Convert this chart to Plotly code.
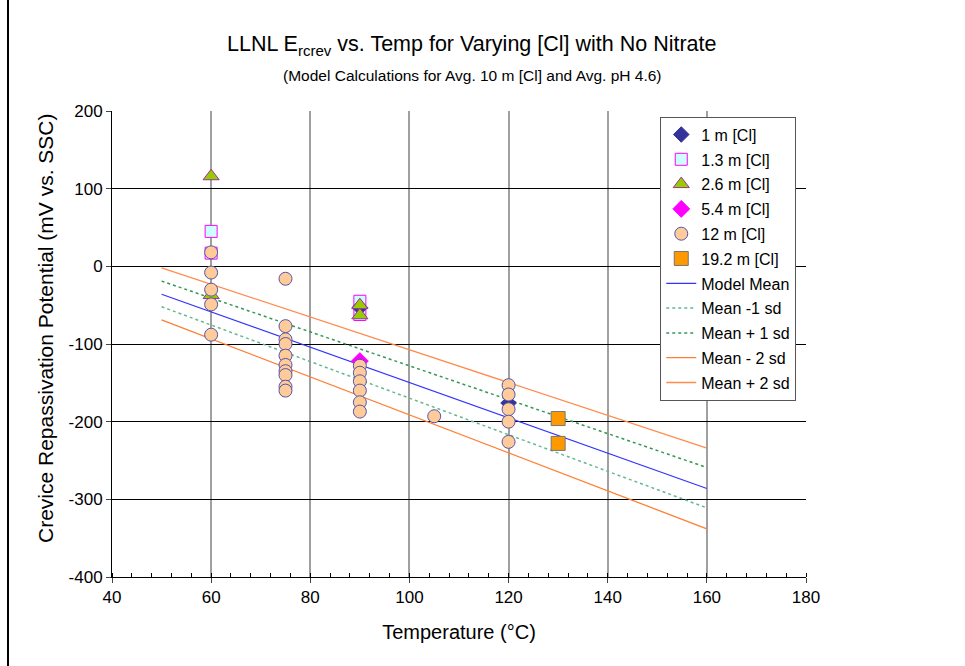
import plotly.graph_objects as go

# ---------------- data ----------------
cl1_x = [90, 120]
cl1_y = [-53, -176]

cl13_x = [60, 60, 90, 90]
cl13_y = [45, 17, -45, -62]

cl26_x = [60, 60, 90, 90]
cl26_y = [116, -37, -50, -63]

cl54_x = [90]
cl54_y = [-122]

cl12_x = [60, 60, 60, 60, 60,
          75, 75, 75, 75, 75, 75, 75, 75, 75, 75,
          90, 90, 90, 90, 90, 90,
          105,
          120, 120, 120, 120, 120]
cl12_y = [18, -8, -30, -49, -88,
          -16, -77, -94, -100, -115, -127, -135, -140, -155, -160,
          -128, -137, -148, -160, -175, -187,
          -193,
          -153, -165, -184, -200, -226]

cl192_x = [130, 130]
cl192_y = [-196, -228]

model_t = [50, 160]
model_mean = [-36, -286]
mean_m1sd = [-52, -311]
mean_p1sd = [-19, -259]
mean_m2sd = [-69, -338]
mean_p2sd = [-2, -234]

x_ticks = [40, 60, 80, 100, 120, 140, 160, 180]
x_labels = ["40", "60", "80", "100", "120", "140", "160", "180"]
y_ticks = [-400, -300, -200, -100, 0, 100, 200]
y_labels = ["-400", "-300", "-200", "-100", "0", "100", "200"]

# ---------------- figure ----------------
fig = go.Figure()

def add_markers(x, y, name, symbol, fill, line_color, size, grp):
    fig.add_trace(go.Scatter(
        x=x, y=y, mode="markers", name=name, legendgroup=grp,
        marker=dict(symbol=symbol, color=fill, size=size,
                    line=dict(color=line_color, width=1))))

def add_line(y, name, color, dash, width, grp):
    fig.add_trace(go.Scatter(
        x=model_t, y=y, mode="lines", name=name, legendgroup=grp,
        line=dict(color=color, dash=dash, width=width)))

add_line(model_mean, "Model Mean", "#3333FF", "solid", 1.2, "g7")
add_line(mean_m1sd, "Mean -1 sd", "#66B88F", "3px,3px", 1.5, "g8")
add_line(mean_p1sd, "Mean + 1 sd", "#339955", "3px,3px", 1.5, "g9")
add_line(mean_m2sd, "Mean - 2 sd", "#FF7F33", "solid", 1.3, "g10")
add_line(mean_p2sd, "Mean + 2 sd", "#FF8C4D", "solid", 1.3, "g11")

add_markers(cl13_x, cl13_y, "1.3 m [Cl]", "square", "#CCFFFF", "#FF00FF", 12, "g2")
add_markers(cl1_x, cl1_y, "1 m [Cl]", "diamond", "#333399", "#333399", 12, "g1")
add_markers(cl26_x, cl26_y, "2.6 m [Cl]", "triangle-up", "#99CC00", "#993399", 14, "g3")
add_markers(cl54_x, cl54_y, "5.4 m [Cl]", "diamond", "#FF00FF", "#FF00FF", 13, "g4")
add_markers(cl12_x, cl12_y, "12 m [Cl]", "circle", "#FFCC99", "#5555AA", 13, "g5")
add_markers(cl192_x, cl192_y, "19.2 m [Cl]", "square", "#FF9900", "#777777", 14, "g6")

ranks = {"1 m [Cl]": 1, "1.3 m [Cl]": 2, "2.6 m [Cl]": 3, "5.4 m [Cl]": 4,
         "12 m [Cl]": 5, "19.2 m [Cl]": 6, "Model Mean": 7, "Mean -1 sd": 8,
         "Mean + 1 sd": 9, "Mean - 2 sd": 10, "Mean + 2 sd": 11}
for tr in fig.data:
    tr.legendrank = ranks[tr.name]

font_family = "Arial, Liberation Sans, sans-serif"

fig.update_layout(
    width=965, height=666,
    margin=dict(l=112, r=159, t=111, b=89),
    paper_bgcolor="white", plot_bgcolor="white",
    font=dict(family=font_family, size=16, color="black"),
    showlegend=True,
    legend=dict(x=0.79, y=0.988, xanchor="left", yanchor="top",
                bgcolor="white", bordercolor="#555555", borderwidth=1,
                font=dict(size=16, family=font_family),
                tracegroupgap=1, traceorder="grouped", itemwidth=30),
    xaxis=dict(range=[40, 180], tickvals=x_ticks, ticktext=x_labels,
               ticks="outside", ticklen=5,
               showline=True, linecolor="black", linewidth=1,
               showgrid=True, gridcolor="#A0A0A0", gridwidth=2,
               zeroline=False, tickfont=dict(size=17),
               minor=dict(dtick=4, ticks="inside", ticklen=4, tickcolor="black", showgrid=False),
               title=dict(text="Temperature (°C)", font=dict(size=20), standoff=18)),
    yaxis=dict(range=[-400, 200], tickvals=y_ticks, ticktext=y_labels,
               ticks="outside", ticklen=5,
               showline=True, linecolor="black", linewidth=1,
               showgrid=True, gridcolor="black", gridwidth=1,
               zeroline=False, tickfont=dict(size=17)),
    annotations=[
        dict(text="LLNL E<sub>rcrev</sub> vs. Temp for Varying [Cl] with No Nitrate",
             xref="paper", yref="paper", x=0.519, y=1 + (111 - 46) / 466,
             xanchor="center", yanchor="middle", showarrow=False,
             font=dict(size=21.5, family=font_family)),
        dict(text="(Model Calculations for Avg. 10 m [Cl] and Avg. pH 4.6)",
             xref="paper", yref="paper", x=0.519, y=1 + (111 - 75) / 466,
             xanchor="center", yanchor="middle", showarrow=False,
             font=dict(size=15.5, family=font_family)),
        dict(text="Crevice Repassivation Potential (mV vs. SSC)",
             xref="paper", yref="paper", x=(45 - 112) / 694, y=1 - (328 - 111) / 466,
             xanchor="center", yanchor="middle", textangle=-90, showarrow=False,
             font=dict(size=21, family=font_family)),
    ],
    shapes=[
        dict(type="line", xref="paper", yref="paper",
             x0=(8 - 112) / 694, x1=(8 - 112) / 694, y0=-0.5, y1=1.5,
             line=dict(color="black", width=2)),
    ],
)

fig.write_html("out.html")
